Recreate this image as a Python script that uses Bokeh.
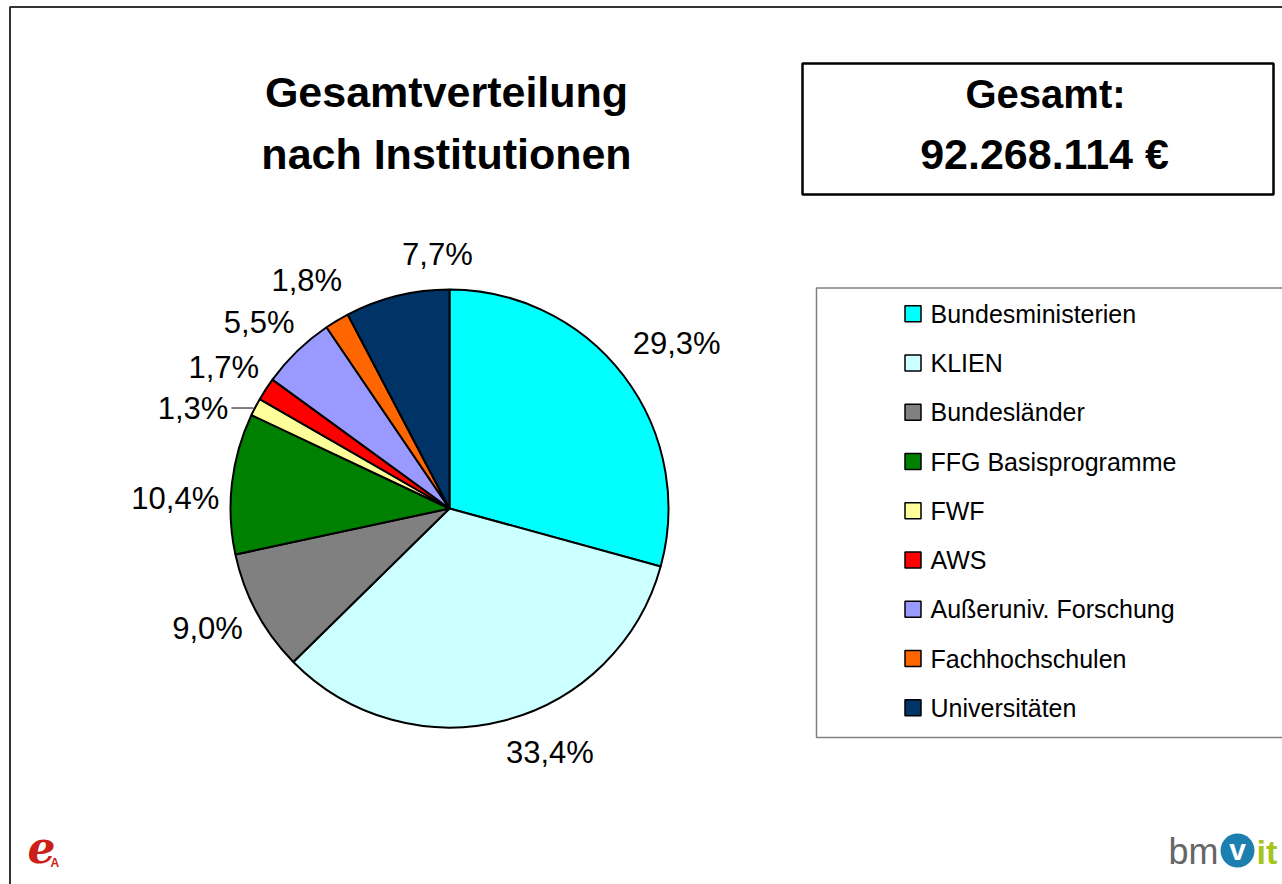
import math
from bokeh.plotting import figure
from bokeh.models import ColumnDataSource, Range1d
from bokeh.core.properties import value
from bokeh.embed import file_html
from bokeh.resources import INLINE

# ---------------- data ----------------
categories = ["Bundesministerien", "KLIEN", "Bundesländer", "FFG Basisprogramme",
              "FWF", "AWS", "Außeruniv. Forschung", "Fachhochschulen", "Universitäten"]
shares = [29.3, 33.4, 9.0, 10.4, 1.3, 1.7, 5.5, 1.8, 7.7]
colors = ["#00FFFF", "#CCFFFF", "#808080", "#008000", "#FFFF99",
          "#FF0000", "#9999FF", "#FF6600", "#003366"]
title_lines = ["Gesamtverteilung", "nach Institutionen"]
total_lines = ["Gesamt:", "92.268.114 €"]

# ---------------- layout (pixel offsets of the percentage labels) ----------------
label_nudge = [(14, -3), (33, -15), (-6, -7), (-8, 21), (0, 0), (-1, 5), (-4, 7), (-5, 2), (52, 6)]

FONT = value("Liberation Sans")

W, H = 1282, 884


def X(xi):
    return xi


def Y(yi):
    return H - yi


p = figure(width=W, height=H, x_range=Range1d(0, W), y_range=Range1d(0, H),
           output_backend="svg", toolbar_location=None, min_border=0,
           x_axis_location=None, y_axis_location=None)
p.grid.visible = False
p.outline_line_color = None
p.background_fill_color = "white"
p.border_fill_color = "white"

# outer slide border (left and top visible)
p.line([X(9.5), X(9.5), X(1400)], [Y(1000), Y(6.5), Y(6.5)], line_color="#333333", line_width=2)

# ---------------- pie ----------------
cx, cy, R = X(449), Y(508), 219
total = sum(shares)
starts, ends, mids = [], [], []
cum = 0.0
for s in shares:
    f0 = cum / total
    cum += s
    f1 = cum / total
    starts.append(math.pi / 2 - 2 * math.pi * f0)
    ends.append(math.pi / 2 - 2 * math.pi * f1)
    mids.append((f0 + f1) / 2)

src = ColumnDataSource(dict(start=starts, end=ends, color=colors, cat=categories))
p.wedge(x=cx, y=cy, radius=R, start_angle="start", end_angle="end", direction="clock",
        fill_color="color", line_color="black", line_width=2, source=src)

# percentage labels
lab_x, lab_y, lab_t = [], [], []
for s, m, (nx, ny) in zip(shares, mids, label_nudge):
    th = 2 * math.pi * m
    dx, dy = math.sin(th), math.cos(th)
    txt = f"{s:.1f}".replace(".", ",") + "%"
    if s < 1.5:
        ex, ey = cx + R * dx, cy + R * dy
        p.line([ex - 2, ex - 24], [ey - 1, ey - 1], line_color="black", line_width=1)
        p.text(x=[ex - 27 + nx], y=[ey - 1 - ny], text=[txt], text_font=FONT,
               text_font_size="31px", text_align="right", text_baseline="middle",
               text_color="black")
    else:
        lab_x.append(cx + 268 * dx + nx)
        lab_y.append(cy + 268 * dy - ny)
        lab_t.append(txt)
p.text(x=lab_x, y=lab_y, text=lab_t, text_font=FONT, text_font_size="31px",
       text_align="center", text_baseline="middle", text_color="black")

# ---------------- title ----------------
p.text(x=[X(446), X(446)], y=[Y(91), Y(153)], text=title_lines, text_font=FONT,
       text_font_size="43px", text_font_style="bold", text_align="center",
       text_baseline="middle", text_color="black")

# ---------------- total box ----------------
p.rect(x=[X(1037.5)], y=[Y(128.5)], width=471, height=131, fill_color="white",
       line_color="black", line_width=2.5)
p.text(x=[X(1045)], y=[Y(93)], text=[total_lines[0]], text_font=FONT,
       text_font_size="40px", text_font_style="bold", text_align="center",
       text_baseline="middle", text_color="black")
p.text(x=[X(1044)], y=[Y(153)], text=[total_lines[1]], text_font=FONT,
       text_font_size="43px", text_font_style="bold", text_align="center",
       text_baseline="middle", text_color="black")

# ---------------- legend ----------------
p.line([X(1400), X(816), X(816), X(1400)], [Y(287.5), Y(287.5), Y(737), Y(737)],
       line_color="#808080", line_width=1.5)
leg_y = [Y(313.3 + 49.25 * i) for i in range(len(categories))]
p.rect(x=[X(912.5)] * len(categories), y=leg_y, width=16, height=16,
       fill_color=colors, line_color="black", line_width=1.5)
p.text(x=[X(930)] * len(categories), y=leg_y, text=categories, text_font=FONT,
       text_font_size="25px", text_align="left", text_baseline="middle", text_color="black")

# ---------------- logos ----------------
p.text(x=[X(27)], y=[Y(846)], text=["e"], text_font=value("DejaVu Serif"),
       text_font_size="44px", text_font_style="bold italic", text_color="#CC1F1A",
       text_align="left", text_baseline="middle")
p.text(x=[X(50)], y=[Y(862)], text=["A"], text_font=FONT, text_font_size="12px",
       text_font_style="bold", text_color="#CC1F1A", text_align="left",
       text_baseline="middle")
p.text(x=[X(1168)], y=[Y(851)], text=["bm"], text_font=FONT, text_font_size="36px",
       text_color="#666666", text_align="left", text_baseline="middle")
p.circle(x=[X(1237)], y=[Y(850)], radius=17, fill_color="#1B7FAF", line_color=None)
p.text(x=[X(1237)], y=[Y(849)], text=["v"], text_font=FONT, text_font_size="30px",
       text_font_style="bold", text_color="white", text_align="center",
       text_baseline="middle")
p.text(x=[X(1256)], y=[Y(851)], text=["it"], text_font=FONT, text_font_size="34px",
       text_font_style="bold", text_color="#A6C51A", text_align="left",
       text_baseline="middle")

open("out.html", "w").write(file_html(p, INLINE))
